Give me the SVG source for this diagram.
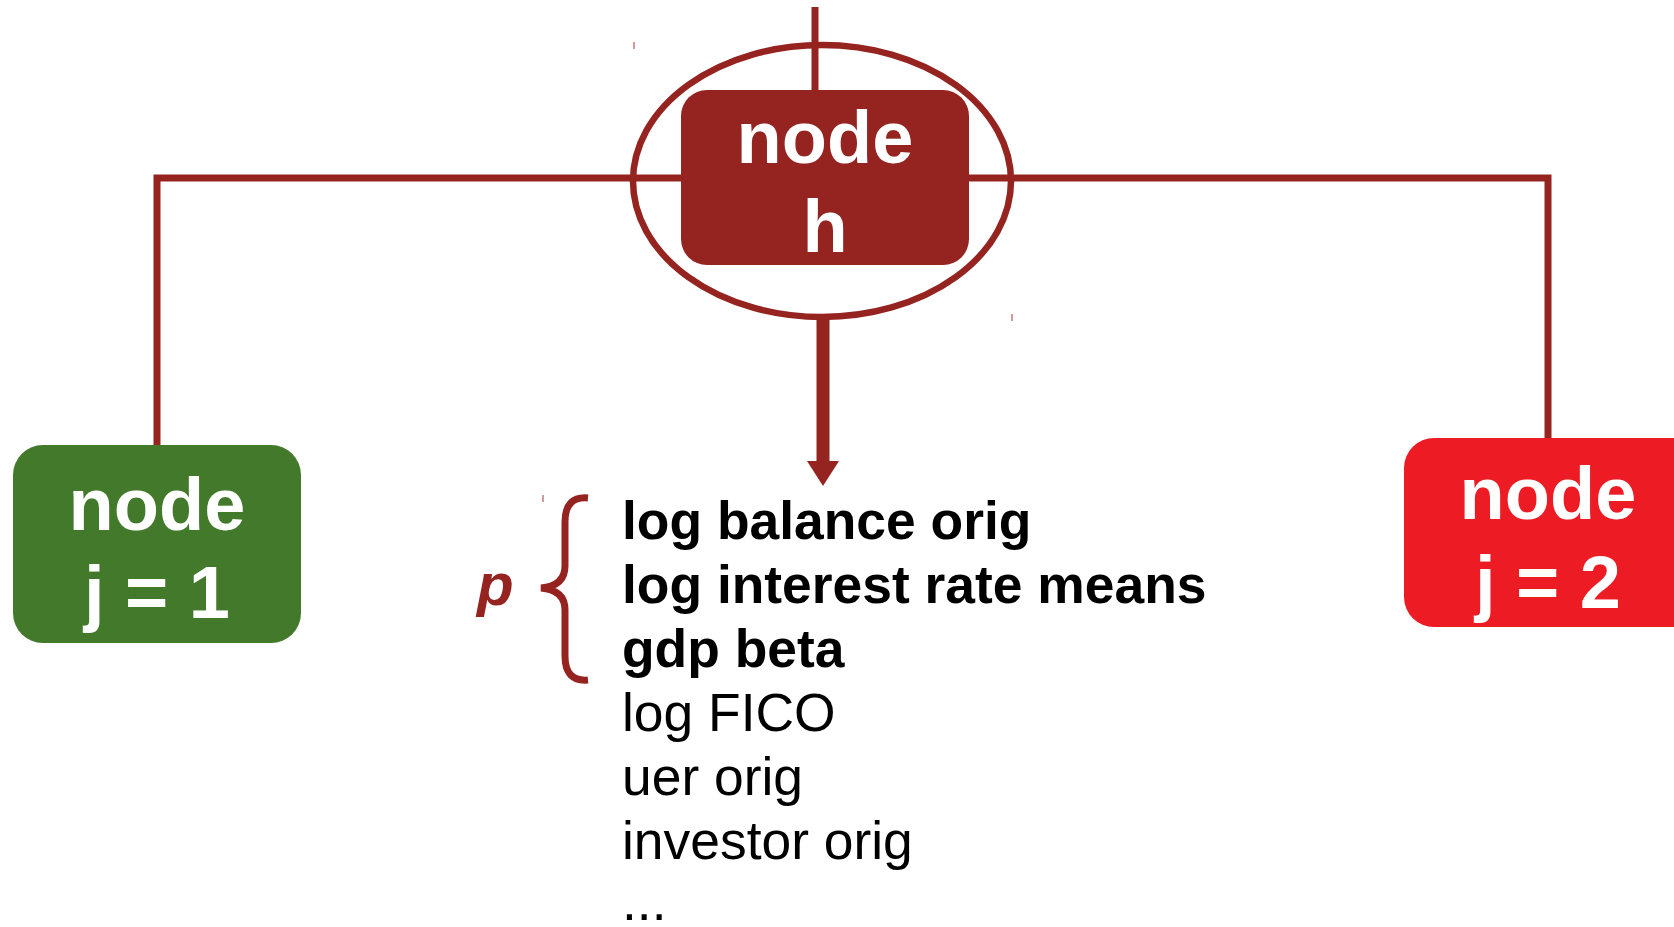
<svg xmlns="http://www.w3.org/2000/svg" width="1674" height="927" viewBox="0 0 1674 927">
  <style>
    .wire { fill: none; stroke: #952421; stroke-width: 7; }
    .node-label { font-family: "Liberation Sans", Arial, sans-serif; font-weight: bold; font-size: 74px; fill: #ffffff; text-anchor: middle; }
    .var { font-family: "Liberation Sans", Arial, sans-serif; font-size: 53.4px; fill: #000000; }
    .var.key { font-weight: bold; }
    .tick { stroke: #c77a78; stroke-width: 1.5; }
  </style>
  <rect width="1674" height="927" fill="#ffffff"/>

  <!-- connectors -->
  <g id="connectors">
    <line class="wire" x1="815" y1="7" x2="815" y2="92"/>
    <polyline class="wire" points="157,446 157,178 1548,178 1548,440"/>
    <line class="wire" x1="823" y1="318" x2="823" y2="462" style="stroke-width:13"/>
    <path d="M807,461 L839,461 L823,486 Z" fill="#952421"/>
    <ellipse class="wire" cx="822" cy="181" rx="189" ry="136" style="stroke-width:6.5"/>
  </g>

  <!-- parent node -->
  <g id="node-h">
    <rect x="681" y="90" width="288" height="175" rx="26" fill="#952421"/>
    <text class="node-label" x="825" y="163">node</text>
    <text class="node-label" x="825" y="252">h</text>
  </g>

  <!-- child nodes -->
  <g id="node-j1">
    <rect x="13" y="445" width="288" height="198" rx="30" fill="#43792b"/>
    <text class="node-label" x="157" y="530">node</text>
    <text class="node-label" x="157" y="618">j = 1</text>
  </g>
  <g id="node-j2">
    <rect x="1404" y="438" width="310" height="189" rx="30" fill="#ed1c24"/>
    <text class="node-label" x="1548" y="519">node</text>
    <text class="node-label" x="1548" y="608">j = 2</text>
  </g>

  <!-- variable list with brace -->
  <g id="variables">
    <text x="477" y="605" font-family="Liberation Sans, Arial, sans-serif" font-weight="bold" font-style="italic" font-size="60" fill="#952421">p</text>
    <path d="M588,498 Q565,496 565,522 L565,566 Q565,586 541,588 Q565,590 565,610 L565,656 Q565,682 588,680" fill="none" stroke="#952421" stroke-width="7"/>
    <text class="var key" x="622" y="539">log balance orig</text>
    <text class="var key" x="622" y="603">log interest rate means</text>
    <text class="var key" x="622" y="667">gdp beta</text>
    <text class="var" x="622" y="731">log FICO</text>
    <text class="var" x="622" y="795">uer orig</text>
    <text class="var" x="622" y="859">investor orig</text>
    <text class="var" x="622" y="920">...</text>
  </g>

  <!-- small stray marks -->
  <g id="marks">
    <line class="tick" x1="634" y1="42" x2="634" y2="49"/>
    <line class="tick" x1="1012" y1="314" x2="1012" y2="321"/>
    <line class="tick" x1="543" y1="495" x2="543" y2="502"/>
  </g>
</svg>
